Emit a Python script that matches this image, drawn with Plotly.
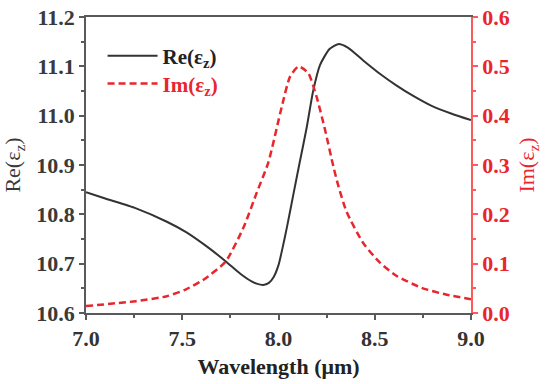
import plotly.graph_objects as go

# Re(eps_z) curve
re_wl = [7.00, 7.10, 7.26, 7.42, 7.52, 7.62, 7.725, 7.80, 7.86, 7.89, 7.92, 7.95,
         7.975, 8.00, 8.02, 8.045, 8.077, 8.11, 8.146, 8.18, 8.216, 8.265, 8.31,
         8.36, 8.44, 8.53, 8.61, 8.70, 8.79, 8.90, 9.00]
re_val = [10.845, 10.832, 10.812, 10.785, 10.764, 10.737, 10.705, 10.680, 10.664,
          10.659, 10.657, 10.661, 10.673, 10.697, 10.730, 10.776, 10.840, 10.905,
          10.975, 11.050, 11.103, 11.135, 11.145, 11.138, 11.112, 11.084, 11.062,
          11.040, 11.021, 11.004, 10.991]

# Im(eps_z) curve
im_wl = [7.00, 7.26, 7.42, 7.52, 7.59, 7.62, 7.725, 7.82, 7.886, 7.947, 8.017,
         8.06, 8.105, 8.155, 8.198, 8.242, 8.285, 8.31, 8.354, 8.44, 8.527, 8.614,
         8.744, 8.874, 9.00]
im_val = [0.014, 0.024, 0.034, 0.048, 0.063, 0.070, 0.104, 0.175, 0.243, 0.305,
          0.418, 0.479, 0.500, 0.486, 0.438, 0.371, 0.297, 0.259, 0.205, 0.142,
          0.102, 0.075, 0.051, 0.037, 0.028]

x_ticks = [7.0, 7.5, 8.0, 8.5, 9.0]
y1_ticks = [10.6, 10.7, 10.8, 10.9, 11.0, 11.1, 11.2]
y2_ticks = [0.0, 0.1, 0.2, 0.3, 0.4, 0.5, 0.6]

FONT = "'Liberation Serif', 'Times New Roman', serif"
DARK = "#333333"
RED = "#e8262d"
AXGRAY = "#5a5a5a"
AXRED = "#ff5a5a"

fig = go.Figure()
fig.add_trace(go.Scatter(
    x=re_wl, y=re_val, mode="lines", name="Re(ε<sub>z</sub>)",
    line=dict(color=DARK, width=2, shape="spline", smoothing=0.6),
    yaxis="y", legend="legend"))
fig.add_trace(go.Scatter(
    x=im_wl, y=im_val, mode="lines", name="Im(ε<sub>z</sub>)",
    line=dict(color=RED, width=2.5, dash="7px,4px", shape="spline", smoothing=0.6),
    yaxis="y2", legend="legend2"))

legend_common = dict(xanchor="left", yanchor="middle", bgcolor="rgba(0,0,0,0)",
                     itemwidth=50, borderwidth=0)

fig.update_layout(
    width=550, height=384,
    margin=dict(l=86, r=79, t=17, b=71, autoexpand=False),
    paper_bgcolor="white", plot_bgcolor="white",
    font=dict(family=FONT, size=20, color=DARK),
    showlegend=True,
    legend=dict(x=0.043, y=0.868,
                font=dict(family=FONT, size=21, weight="bold", color="#222222"),
                **legend_common),
    legend2=dict(x=0.043, y=0.774,
                 font=dict(family=FONT, size=21, weight="bold", color=RED),
                 **legend_common),
    xaxis=dict(
        range=[7.0, 9.0], tickvals=x_ticks, tickformat=".1f", automargin=False,
        showgrid=False, zeroline=False,
        showline=True, linecolor=AXGRAY, linewidth=1.5, mirror=True,
        ticks="outside", ticklen=5, tickcolor=AXGRAY, tickwidth=1.5,
        minor=dict(ticks="outside", ticklen=3, dtick=0.25, tickcolor=AXGRAY, tickwidth=1.5),
        tickfont=dict(family=FONT, size=22, weight="bold", color=DARK),
        title=dict(text="Wavelength (μm)", standoff=8,
                   font=dict(family=FONT, size=22, weight="bold", color="#222222")),
    ),
    yaxis=dict(
        range=[10.6, 11.2], tickvals=y1_ticks, tickformat=".1f", automargin=False,
        showgrid=False, zeroline=False,
        showline=True, linecolor=AXGRAY, linewidth=1.5,
        ticks="outside", ticklen=5, tickcolor=AXGRAY, tickwidth=1.5,
        minor=dict(ticks="outside", ticklen=3, dtick=0.05, tickcolor=AXGRAY, tickwidth=1.5),
        tickfont=dict(family=FONT, size=22, weight="bold", color="#3a3a3a"),
        title=dict(text="Re(ε<sub>z</sub>)", standoff=10,
                   font=dict(family=FONT, size=22, color="#3a3a3a")),
    ),
    yaxis2=dict(
        range=[0.0, 0.6], tickvals=y2_ticks, tickformat=".1f", automargin=False,
        overlaying="y", side="right",
        showgrid=False, zeroline=False,
        showline=True, linecolor=AXRED, linewidth=1.5,
        ticks="outside", ticklen=5, tickcolor=AXRED, tickwidth=1.5,
        minor=dict(ticks="outside", ticklen=3, dtick=0.05, tickcolor=AXRED, tickwidth=1.5),
        tickfont=dict(family=FONT, size=22, weight="bold", color=RED),
        title=dict(text="Im(ε<sub>z</sub>)", standoff=10,
                   font=dict(family=FONT, size=22, color=RED)),
    ),
)

fig.write_html("out.html",
               config={"displayModeBar": False},
               post_script="document.body.style.margin='0';document.body.style.padding='0';")
